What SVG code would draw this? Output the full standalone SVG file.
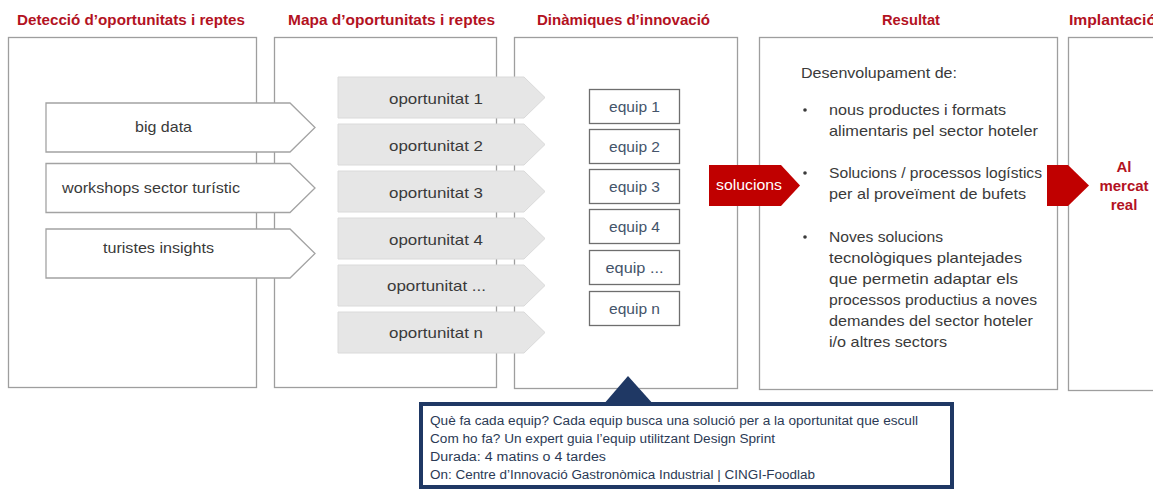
<svg xmlns="http://www.w3.org/2000/svg" width="1153" height="489" viewBox="0 0 1153 489">
<style>
.hdr{font-family:"Liberation Sans",Arial,sans-serif;font-weight:bold;font-size:15px;fill:#B3121F}
.panel{fill:#fff;stroke:#9E9E9E;stroke-width:1.3}
.inp{fill:#fff;stroke:#A3A3A3;stroke-width:1.3}
.opp{fill:#E6E6E6;stroke:#DADADA;stroke-width:1}
.eq{fill:#fff;stroke:#6E6E6E;stroke-width:1.3}
.t{font-family:"Liberation Sans",Arial,sans-serif;font-size:15px;fill:#3A3A3A}
.te{font-family:"Liberation Sans",Arial,sans-serif;font-size:15px;fill:#44546A}
.red{fill:#C00000}
.tw{font-family:"Liberation Sans",Arial,sans-serif;font-size:15px;fill:#fff}
.tr{font-family:"Liberation Sans",Arial,sans-serif;font-weight:bold;font-size:15px;fill:#B3121F}
.tc{font-family:"Liberation Sans",Arial,sans-serif;font-size:12.5px;fill:#2B3A55}
.navy{fill:#1F3864}
</style>

<g id="headers">
<text class="hdr" x="17" y="25" textLength="228" lengthAdjust="spacingAndGlyphs">Detecció d’oportunitats i reptes</text>
<text class="hdr" x="288" y="25" textLength="207" lengthAdjust="spacingAndGlyphs">Mapa d’oportunitats i reptes</text>
<text class="hdr" x="537" y="25" textLength="173" lengthAdjust="spacingAndGlyphs">Dinàmiques d’innovació</text>
<text class="hdr" x="882" y="25" textLength="58" lengthAdjust="spacingAndGlyphs">Resultat</text>
<text class="hdr" x="1069" y="25" textLength="87" lengthAdjust="spacingAndGlyphs">Implantació</text>
</g>

<g id="panels">
<rect id="panel-deteccio" class="panel" x="8.5" y="37.5" width="248" height="350"/>
<rect id="panel-mapa" class="panel" x="274.5" y="37.5" width="222" height="350"/>
<rect id="panel-dinamiques" class="panel" x="514.5" y="37.5" width="223" height="351"/>
<rect id="panel-resultat" class="panel" x="759.5" y="37.5" width="298" height="352"/>
<rect id="panel-implantacio" class="panel" x="1068.5" y="37.5" width="100" height="353"/>
</g>

<g id="input-big-data">
<polygon class="inp" points="46,103 290,103 315,127.5 290,152 46,152"/>
<text class="t" x="135" y="132" textLength="57" lengthAdjust="spacingAndGlyphs">big data</text>
</g>
<g id="input-workshops">
<polygon class="inp" points="46,163.5 290,163.5 315,188 290,212.5 46,212.5"/>
<text class="t" x="62" y="193" textLength="178" lengthAdjust="spacingAndGlyphs">workshops sector turístic</text>
</g>
<g id="input-turistes">
<polygon class="inp" points="46,229 290,229 315,253.5 290,278 46,278"/>
<text class="t" x="103" y="253" textLength="111" lengthAdjust="spacingAndGlyphs">turistes insights</text>
</g>

<g id="opp-1">
<polygon class="opp" points="338,77 524,77 545,97.5 524,118 338,118"/>
<text class="t" x="389" y="104" textLength="94" lengthAdjust="spacingAndGlyphs">oportunitat 1</text>
</g>
<g id="opp-2">
<polygon class="opp" points="338,124 524,124 545,144.5 524,165 338,165"/>
<text class="t" x="389" y="151" textLength="94" lengthAdjust="spacingAndGlyphs">oportunitat 2</text>
</g>
<g id="opp-3">
<polygon class="opp" points="338,171 524,171 545,191.5 524,212 338,212"/>
<text class="t" x="389" y="198" textLength="94" lengthAdjust="spacingAndGlyphs">oportunitat 3</text>
</g>
<g id="opp-4">
<polygon class="opp" points="338,218 524,218 545,238.5 524,259 338,259"/>
<text class="t" x="389" y="245" textLength="94" lengthAdjust="spacingAndGlyphs">oportunitat 4</text>
</g>
<g id="opp-etc">
<polygon class="opp" points="338,265 524,265 545,285.5 524,306 338,306"/>
<text class="t" x="387" y="291" textLength="99" lengthAdjust="spacingAndGlyphs">oportunitat ...</text>
</g>
<g id="opp-n">
<polygon class="opp" points="338,312 524,312 545,332.5 524,353 338,353"/>
<text class="t" x="389" y="338" textLength="94" lengthAdjust="spacingAndGlyphs">oportunitat n</text>
</g>

<g id="equip-1"><rect class="eq" x="589.5" y="89.5" width="90" height="34"/><text class="te" x="634.5" y="112" text-anchor="middle" textLength="51" lengthAdjust="spacingAndGlyphs">equip 1</text></g>
<g id="equip-2"><rect class="eq" x="589.5" y="129.5" width="90" height="34"/><text class="te" x="634.5" y="152" text-anchor="middle" textLength="51" lengthAdjust="spacingAndGlyphs">equip 2</text></g>
<g id="equip-3"><rect class="eq" x="589.5" y="169.5" width="90" height="34"/><text class="te" x="634.5" y="192" text-anchor="middle" textLength="51" lengthAdjust="spacingAndGlyphs">equip 3</text></g>
<g id="equip-4"><rect class="eq" x="589.5" y="209.5" width="90" height="34"/><text class="te" x="634.5" y="232" text-anchor="middle" textLength="51" lengthAdjust="spacingAndGlyphs">equip 4</text></g>
<g id="equip-etc"><rect class="eq" x="589.5" y="250.5" width="90" height="34"/><text class="te" x="634.5" y="272.5" text-anchor="middle" textLength="58" lengthAdjust="spacingAndGlyphs">equip ...</text></g>
<g id="equip-n"><rect class="eq" x="589.5" y="291.5" width="90" height="34"/><text class="te" x="634.5" y="314" text-anchor="middle" textLength="51" lengthAdjust="spacingAndGlyphs">equip n</text></g>

<g id="solucions">
<polygon class="red" points="709,165 781,165 800,185.5 781,206 709,206"/>
<text class="tw" x="716" y="190" textLength="66" lengthAdjust="spacingAndGlyphs">solucions</text>
</g>

<g id="resultat-text">
<text class="t" x="801" y="78" textLength="156" lengthAdjust="spacingAndGlyphs">Desenvolupament de:</text>
<circle cx="805" cy="110" r="1.8" fill="#3A3A3A"/>
<text class="t" x="829" y="115" textLength="177" lengthAdjust="spacingAndGlyphs">nous productes i formats</text>
<text class="t" x="829" y="136" textLength="209" lengthAdjust="spacingAndGlyphs">alimentaris pel sector hoteler</text>
<circle cx="805" cy="173" r="1.8" fill="#3A3A3A"/>
<text class="t" x="829" y="178" textLength="213" lengthAdjust="spacingAndGlyphs">Solucions / processos logístics</text>
<text class="t" x="829" y="199" textLength="197" lengthAdjust="spacingAndGlyphs">per al proveïment de bufets</text>
<circle cx="805" cy="237" r="1.8" fill="#3A3A3A"/>
<text class="t" x="829" y="242" textLength="114" lengthAdjust="spacingAndGlyphs">Noves solucions</text>
<text class="t" x="829" y="263" textLength="193" lengthAdjust="spacingAndGlyphs">tecnològiques plantejades</text>
<text class="t" x="829" y="284" textLength="189" lengthAdjust="spacingAndGlyphs">que permetin adaptar els</text>
<text class="t" x="829" y="305" textLength="208" lengthAdjust="spacingAndGlyphs">processos productius a noves</text>
<text class="t" x="829" y="326" textLength="204" lengthAdjust="spacingAndGlyphs">demandes del sector hoteler</text>
<text class="t" x="829" y="347" textLength="118" lengthAdjust="spacingAndGlyphs">i/o altres sectors</text>
</g>

<g id="al-mercat">
<polygon class="red" points="1047,165 1068,165 1089,185.5 1068,206 1047,206"/>
<text class="tr" x="1124" y="172" text-anchor="middle">Al</text>
<text class="tr" x="1124" y="191" text-anchor="middle">mercat</text>
<text class="tr" x="1124" y="210" text-anchor="middle">real</text>
</g>

<g id="connectors">
<polygon class="navy" points="603,405 628,376 654,405"/>
</g>

<g id="callout">
<rect x="421" y="404" width="531" height="83" fill="#fff" stroke="#1F3864" stroke-width="4"/>
<text class="tc" x="430" y="425" textLength="488" lengthAdjust="spacingAndGlyphs">Què fa cada equip? Cada equip busca una solució per a la oportunitat que escull</text>
<text class="tc" x="430" y="443" textLength="345" lengthAdjust="spacingAndGlyphs">Com ho fa? Un expert guia l’equip utilitzant Design Sprint</text>
<text class="tc" x="430" y="461" textLength="176" lengthAdjust="spacingAndGlyphs">Durada: 4 matins o 4 tardes</text>
<text class="tc" x="430" y="479" textLength="385" lengthAdjust="spacingAndGlyphs">On: Centre d’Innovació Gastronòmica Industrial | CINGI-Foodlab</text>
</g>
</svg>
